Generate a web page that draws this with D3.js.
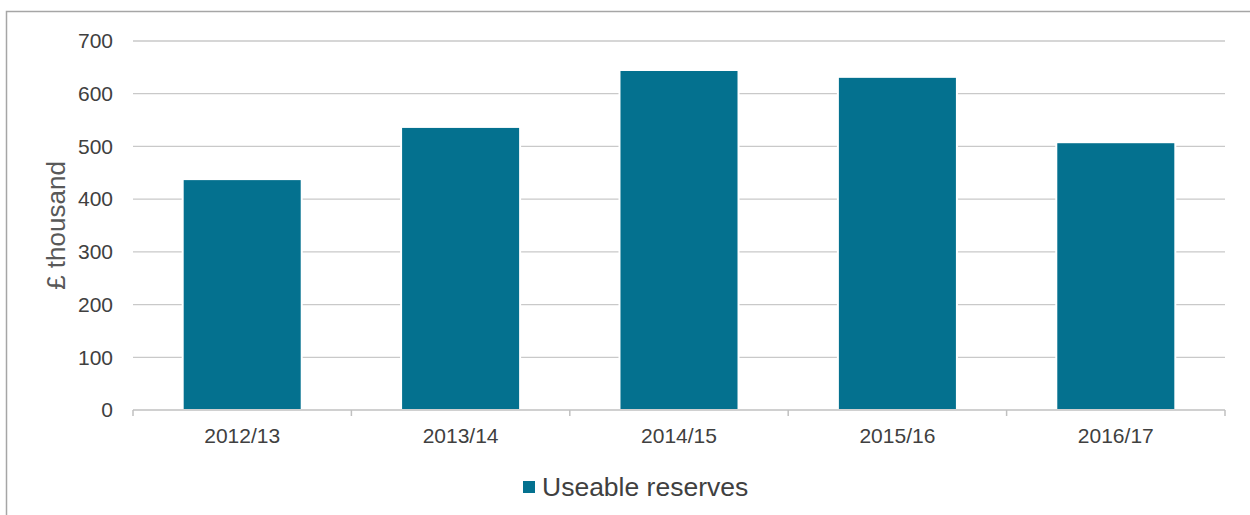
<!DOCTYPE html>
<html>
<head>
<meta charset="utf-8">
<script src="https://cdn.jsdelivr.net/npm/d3@7"></script>
<style>
  html, body { margin: 0; padding: 0; background: #fff; }
  svg { display: block; font-family: "Liberation Sans", Arial, sans-serif; }
</style>
</head>
<body>
<div id="chart"></div>
<script>
// ---- data ----
const years = ["2012/13", "2013/14", "2014/15", "2015/16", "2016/17"];
const reserves = [438, 537, 645, 632, 508];
const yTicks = [0, 100, 200, 300, 400, 500, 600, 700];
const seriesName = "Useable reserves";
const yTitle = "£ thousand";

const W = 1250, H = 515;
const m = { left: 133, right: 25, top: 41, bottom: 105 };
const barColor = "#04718f";
const textColor = "#404040";

const svg = d3.select("#chart").append("svg")
  .attr("width", W).attr("height", H);

// outer frame (right/bottom run off the page)
svg.append("rect")
  .attr("x", 6.5).attr("y", 11.5)
  .attr("width", W + 20).attr("height", H + 20)
  .attr("fill", "none").attr("stroke", "#a6a6a6").attr("stroke-width", 1.5);

const x = d3.scaleBand().domain(years)
  .range([m.left, W - m.right]).paddingInner(0.455).paddingOuter(0.2275);
const y = d3.scaleLinear().domain([0, 700]).range([H - m.bottom, m.top]);

// gridlines
svg.append("g")
  .selectAll("line")
  .data(yTicks.filter(d => d > 0))
  .join("line")
  .attr("x1", m.left).attr("x2", W - m.right)
  .attr("y1", d => y(d)).attr("y2", d => y(d))
  .attr("stroke", "#c9c9c9").attr("stroke-width", 1.3);

// y tick labels
svg.append("g")
  .selectAll("text")
  .data(yTicks)
  .join("text")
  .attr("x", 113).attr("y", d => y(d))
  .attr("dy", "0.35em")
  .attr("text-anchor", "end")
  .attr("font-size", 21)
  .attr("fill", textColor)
  .text(d => d);

// y title
svg.append("text")
  .attr("transform", `translate(65, ${(y(0) + y(700)) / 2}) rotate(-90)`)
  .attr("text-anchor", "middle")
  .attr("font-size", 26)
  .attr("fill", "#595959")
  .text(yTitle);

// bars
svg.append("g")
  .selectAll("rect")
  .data(reserves)
  .join("rect")
  .attr("x", (d, i) => x(years[i]))
  .attr("y", d => y(d))
  .attr("width", x.bandwidth())
  .attr("height", d => y(0) - y(d))
  .attr("fill", barColor)
  .attr("stroke", "#fff").attr("stroke-width", 2);

// x axis line + ticks at band edges
const xAxis = svg.append("g");
xAxis.append("line")
  .attr("x1", m.left).attr("x2", W - m.right)
  .attr("y1", y(0)).attr("y2", y(0))
  .attr("stroke", "#c0c0c0").attr("stroke-width", 1.5);
const step = x.step();
xAxis.selectAll("line.tick")
  .data(d3.range(years.length + 1))
  .join("line")
  .attr("class", "tick")
  .attr("x1", i => m.left + i * step).attr("x2", i => m.left + i * step)
  .attr("y1", y(0)).attr("y2", y(0) + 6)
  .attr("stroke", "#c0c0c0").attr("stroke-width", 1.5);

xAxis.selectAll("text")
  .data(years)
  .join("text")
  .attr("x", d => x(d) + x.bandwidth() / 2)
  .attr("y", 443)
  .attr("text-anchor", "middle")
  .attr("font-size", 21)
  .attr("fill", textColor)
  .text(d => d);

// legend
const lg = svg.append("g");
lg.append("rect")
  .attr("x", 523).attr("y", 481)
  .attr("width", 12).attr("height", 12)
  .attr("fill", barColor);
lg.append("text")
  .attr("x", 542).attr("y", 496)
  .attr("font-size", 26.5)
  .attr("fill", textColor)
  .text(seriesName);
</script>
</body>
</html>
